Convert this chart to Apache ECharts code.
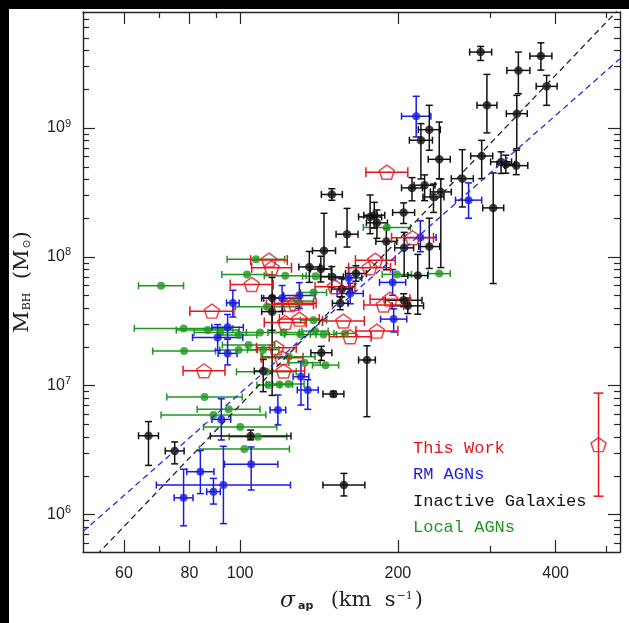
<!DOCTYPE html>
<html>
<head>
<meta charset="utf-8">
<script src="https://cdn.jsdelivr.net/npm/echarts@6/dist/echarts.min.js"></script>
<style>
html, body { margin: 0; padding: 0; background: #000; width: 629px; height: 623px; overflow: hidden; }
#chart { position: absolute; left: 9px; top: 9px; width: 620px; height: 614px; background: #fff; }
</style>
</head>
<body>
<div id="chart"></div>
<script>
// rows: [log sigma, sigma half-bar (dex), log M_BH, bar up (dex), bar down (dex)]
const inactiveGalaxies = [
    [2.459, 0.021, 9.589, 0.044, 0.065],
    [2.471, 0.019, 9.176, 0.240, 0.214],
    [2.531, 0.022, 9.447, 0.142, 0.181],
    [2.574, 0.021, 9.558, 0.103, 0.109],
    [2.585, 0.020, 9.323, 0.085, 0.147],
    [2.528, 0.020, 9.111, 0.142, 0.271],
    [2.361, 0.021, 8.987, 0.189, 0.160],
    [2.345, 0.022, 8.905, 0.129, 0.300],
    [2.380, 0.021, 8.757, 0.289, 0.150],
    [2.461, 0.021, 8.783, 0.121, 0.176],
    [2.498, 0.020, 8.737, 0.078, 0.090],
    [2.507, 0.017, 8.719, 0.070, 0.070],
    [2.527, 0.022, 8.708, 0.119, 0.070],
    [2.483, 0.020, 8.380, 0.271, 0.587],
    [2.424, 0.021, 8.607, 0.225, 0.220],
    [2.328, 0.020, 8.535, 0.080, 0.100],
    [2.352, 0.020, 8.556, 0.080, 0.120],
    [2.383, 0.020, 8.504, 0.100, 0.587],
    [2.369, 0.020, 8.465, 0.100, 0.120],
    [2.312, 0.021, 8.344, 0.075, 0.085],
    [2.204, 0.021, 8.176, 0.200, 0.100],
    [2.160, 0.022, 8.048, 0.290, 0.140],
    [2.248, 0.022, 8.310, 0.170, 0.130],
    [2.256, 0.020, 8.323, 0.100, 0.100],
    [2.261, 0.020, 8.264, 0.100, 0.120],
    [2.175, 0.020, 8.484, 0.045, 0.045],
    [2.279, 0.020, 8.120, 0.100, 0.220],
    [2.313, 0.018, 8.070, 0.120, 0.220],
    [2.361, 0.020, 8.080, 0.220, 0.170],
    [2.339, 0.019, 7.855, 0.164, 0.300],
    [2.132, 0.020, 7.922, 0.120, 0.120],
    [2.154, 0.020, 7.905, 0.100, 0.100],
    [2.175, 0.022, 7.845, 0.080, 0.080],
    [2.221, 0.020, 7.871, 0.060, 0.060],
    [2.194, 0.020, 7.750, 0.080, 0.060],
    [2.191, 0.015, 7.640, 0.050, 0.050],
    [2.312, 0.035, 7.664, 0.050, 0.050],
    [2.320, 0.030, 7.620, 0.060, 0.060],
    [2.061, 0.020, 7.680, 0.160, 0.250],
    [2.061, 0.020, 7.575, 0.120, 0.650],
    [2.155, 0.020, 7.256, 0.050, 0.060],
    [2.242, 0.016, 7.200, 0.110, 0.440],
    [2.178, 0.020, 6.936, 0.020, 0.020],
    [2.044, 0.017, 7.114, 0.090, 0.160],
    [2.020, 0.077, 6.610, 0.046, 0.030],
    [1.825, 0.019, 6.612, 0.110, 0.230],
    [1.875, 0.018, 6.494, 0.070, 0.100],
    [2.198, 0.040, 6.230, 0.090, 0.085]
];

const rmAgns = [
    [2.336, 0.028, 9.091, 0.155, 0.160],
    [2.436, 0.025, 8.440, 0.134, 0.140],
    [2.344, 0.030, 8.150, 0.130, 0.110],
    [2.291, 0.025, 7.802, 0.100, 0.100],
    [2.207, 0.025, 7.837, 0.080, 0.080],
    [2.210, 0.025, 7.716, 0.080, 0.080],
    [2.113, 0.030, 7.700, 0.100, 0.100],
    [2.080, 0.035, 7.678, 0.100, 0.100],
    [2.293, 0.025, 7.517, 0.080, 0.100],
    [1.986, 0.012, 7.643, 0.098, 0.110],
    [1.957, 0.048, 7.375, 0.100, 0.100],
    [1.976, 0.030, 7.453, 0.100, 0.080],
    [1.976, 0.018, 7.251, 0.110, 0.090],
    [2.116, 0.015, 7.070, 0.120, 0.220],
    [2.129, 0.020, 6.967, 0.080, 0.150],
    [2.072, 0.015, 6.812, 0.116, 0.116],
    [1.964, 0.018, 6.739, 0.160, 0.160],
    [2.021, 0.051, 6.391, 0.134, 0.200],
    [1.924, 0.026, 6.333, 0.165, 0.170],
    [1.949, 0.013, 6.178, 0.103, 0.096],
    [1.968, 0.128, 6.230, 0.300, 0.300],
    [1.892, 0.018, 6.130, 0.222, 0.217]
];

// rows: [log sigma, sigma half-bar (dex), log M_BH]
const localAgns = [
    [1.849, 0.043, 7.776], [2.280, 0.045, 8.228], [2.030, 0.055, 7.982],
    [2.013, 0.048, 7.864], [2.086, 0.040, 7.853], [2.380, 0.021, 7.870],
    [2.299, 0.028, 7.864], [2.144, 0.025, 7.849], [1.892, 0.094, 7.445],
    [1.938, 0.060, 7.432], [1.962, 0.050, 7.414], [1.997, 0.035, 7.393],
    [2.038, 0.040, 7.414], [2.115, 0.030, 7.398], [2.143, 0.025, 7.424],
    [2.159, 0.025, 7.398], [2.200, 0.021, 7.406], [1.893, 0.060, 7.269],
    [1.997, 0.036, 7.277], [2.016, 0.050, 7.316], [2.044, 0.030, 7.280],
    [2.140, 0.025, 7.509], [2.140, 0.025, 7.724], [2.051, 0.060, 7.613],
    [2.163, 0.025, 7.160], [2.123, 0.030, 7.179], [2.093, 0.050, 7.225],
    [2.050, 0.057, 7.108], [2.054, 0.022, 7.006], [2.075, 0.025, 7.009],
    [2.092, 0.030, 7.013], [1.932, 0.072, 6.913], [1.949, 0.100, 6.773],
    [1.978, 0.060, 6.817], [2.000, 0.070, 6.679], [2.034, 0.055, 6.605],
    [2.008, 0.086, 6.509], [2.110, 0.030, 7.657], [2.083, 0.030, 7.414]
];

const thisWork = [
    [2.280, 0.040, 8.657], [2.329, 0.040, 8.148], [2.055, 0.035, 7.975],
    [2.060, 0.038, 7.915], [2.258, 0.038, 7.974], [2.247, 0.040, 7.915],
    [2.022, 0.041, 7.786], [2.181, 0.038, 7.768], [1.946, 0.042, 7.579],
    [2.095, 0.045, 7.631], [2.113, 0.038, 7.517], [2.086, 0.040, 7.491],
    [2.197, 0.040, 7.502], [2.274, 0.038, 7.626], [2.286, 0.038, 7.672],
    [2.261, 0.040, 7.424], [2.210, 0.040, 7.380], [2.069, 0.038, 7.295],
    [2.080, 0.040, 7.217], [2.083, 0.040, 7.114], [1.931, 0.040, 7.116],
    [2.105, 0.040, 7.640]
];

// typical uncertainty of this work, drawn at the right edge
const typicalError = [[2.684, 0, 6.543, 0.40, 0.40]];

// log M = zp + slope * log(sigma / 200)
const fitInactive = { zp: 8.13, slope: 4.25 };
const fitAgn = { zp: 8.02, slope: 3.58 };

const sigmaMajor = [60, 80, 100, 200, 400];
const sigmaMinor = [70, 90, 300, 500];
const massMajor = [6, 7, 8, 9];
const massMinorSteps = [2, 3, 4, 5, 6, 7, 8, 9];

const xMin = 1.70, xMax = 2.725, yMin = 5.71, yMax = 9.90;

const RED = '#e3161e', BLUE = '#1a1ae6', GREEN = '#1f961f', BLACK = '#111111';
const frameColor = '#262626';

const massMinor = [];
[5, 6, 7, 8, 9].forEach(function (d) {
    massMinorSteps.forEach(function (k) { massMinor.push(d + Math.log10(k)); });
});

function xAxisDef(pos, ticks, len, line, label) {
    return {
        type: 'value', gridIndex: 0, position: pos, min: xMin, max: xMax,
        axisLine: { show: line, onZero: false, lineStyle: { color: frameColor, width: 1.4 } },
        axisTick: { show: true, inside: true, length: len, customValues: ticks,
            lineStyle: { color: frameColor, width: 1.2 } },
        axisLabel: label ? {
            show: true, customValues: ticks, margin: 14, color: '#222',
            fontFamily: 'Liberation Sans', fontSize: 16,
            formatter: function (v) { return String(Math.round(Math.pow(10, v))); }
        } : { show: false },
        splitLine: { show: false }
    };
}

function yAxisDef(pos, ticks, len, line, label) {
    return {
        type: 'value', gridIndex: 0, position: pos, min: yMin, max: yMax,
        axisLine: { show: line, onZero: false, lineStyle: { color: frameColor, width: 1.4 } },
        axisTick: { show: true, inside: true, length: len, customValues: ticks,
            lineStyle: { color: frameColor, width: 1.2 } },
        axisLabel: label ? {
            show: true, customValues: ticks, margin: 12,
            formatter: function (v) { return '{b|10}{e|' + Math.round(v) + '}'; },
            rich: {
                b: { fontFamily: 'Liberation Sans', fontSize: 16, color: '#222' },
                e: { fontFamily: 'Liberation Sans', fontSize: 11, color: '#222', padding: [0, 0, 9, 0] }
            }
        } : { show: false },
        splitLine: { show: false }
    };
}

function errorSeries(rows, color, cap, width) {
    const padded = rows.map(function (r) { return [r[0], r[1], r[2], r[3] || 0, r[4] || 0]; });
    return {
        type: 'custom', xAxisIndex: 0, yAxisIndex: 0, silent: true, clip: true,
        dimensions: ['ls', 'dls', 'lm', 'up', 'dn'],
        encode: { x: 0, y: 2 },
        data: padded,
        renderItem: function (params, api) {
            const x = api.value(0), dx = api.value(1), y = api.value(2);
            const up = api.value(3), dn = api.value(4);
            const st = { stroke: color, lineWidth: width, fill: null };
            const kids = [];
            function seg(x1, y1, x2, y2) {
                kids.push({ type: 'line', shape: { x1: x1, y1: y1, x2: x2, y2: y2 }, style: st });
            }
            if (dx > 0) {
                const a = api.coord([x - dx, y]), b = api.coord([x + dx, y]);
                seg(a[0], a[1], b[0], b[1]);
                seg(a[0], a[1] - cap, a[0], a[1] + cap);
                seg(b[0], b[1] - cap, b[0], b[1] + cap);
            }
            if (up > 0 || dn > 0) {
                const t = api.coord([x, y + up]), d = api.coord([x, y - dn]);
                seg(t[0], t[1], d[0], d[1]);
                seg(t[0] - cap, t[1], t[0] + cap, t[1]);
                seg(d[0] - cap, d[1], d[0] + cap, d[1]);
            }
            return { type: 'group', children: kids };
        }
    };
}

function points(rows) { return rows.map(function (r) { return [r[0], r[2]]; }); }

function fitLine(fit) {
    return [xMin, xMax].map(function (x) { return [x, fit.zp + fit.slope * (x - Math.log10(200))]; });
}

const pentagon = 'path://M0,-1L0.951,-0.309L0.588,0.809L-0.588,0.809L-0.951,-0.309Z';

const chart = echarts.init(document.getElementById('chart'), null, { renderer: 'canvas' });
chart.setOption({
    animation: false,
    backgroundColor: '#fff',
    grid: { left: 74, right: 9, top: 3, bottom: 71, containLabel: false, outerBoundsMode: 'none' },
    xAxis: [
        Object.assign(xAxisDef('bottom', sigmaMajor.map(Math.log10), 12, true, true), {
            name: '{g|σ}{s|ap}{m|  (km  s}{p|−1}{m|)}',
            nameLocation: 'middle', nameGap: 38,
            nameTextStyle: { rich: {
                g: { fontFamily: 'DejaVu Serif', fontStyle: 'italic', fontSize: 22, color: '#222' },
                s: { fontFamily: 'DejaVu Sans', fontWeight: 'bold', fontSize: 11, color: '#222', padding: [10, 4, 0, 3] },
                m: { fontFamily: 'DejaVu Serif', fontSize: 21, color: '#222' },
                p: { fontFamily: 'DejaVu Serif', fontSize: 11, color: '#222', padding: [0, 2, 10, 1] }
            } }
        }),
        xAxisDef('bottom', sigmaMinor.map(Math.log10), 6, false, false),
        xAxisDef('top', sigmaMajor.map(Math.log10), 12, true, false),
        xAxisDef('top', sigmaMinor.map(Math.log10), 6, false, false)
    ],
    yAxis: [
        Object.assign(yAxisDef('left', massMajor, 12, true, true), {
            name: '{m|M}{s|BH}{m|  (M}{s|⊙}{m|)}',
            nameLocation: 'middle', nameGap: 50, nameRotate: 90,
            nameTextStyle: { rich: {
                m: { fontFamily: 'DejaVu Serif', fontSize: 21, color: '#222' },
                s: { fontFamily: 'DejaVu Serif', fontSize: 11, color: '#222', padding: [10, 0, 0, 1] }
            } }
        }),
        yAxisDef('left', massMinor, 6, false, false),
        yAxisDef('right', massMajor, 12, true, false),
        yAxisDef('right', massMinor, 6, false, false)
    ],
    legend: {
        orient: 'vertical', left: 394, top: 424,
        icon: 'none', itemWidth: 0, itemHeight: 14, itemGap: 6.5,
        selectedMode: false,
        textStyle: { fontFamily: 'Liberation Mono', fontSize: 17, lineHeight: 20 },
        data: [
            { name: 'This Work', textStyle: { color: RED } },
            { name: 'RM AGNs', textStyle: { color: BLUE } },
            { name: 'Inactive Galaxies', textStyle: { color: BLACK } },
            { name: 'Local AGNs', textStyle: { color: GREEN } }
        ]
    },
    series: [
        errorSeries(localAgns, GREEN, 3.5, 1.5),
        { type: 'scatter', name: 'Local AGNs', data: points(localAgns), symbol: 'circle', symbolSize: 8,
          itemStyle: { color: GREEN }, silent: true },
        errorSeries(rmAgns, BLUE, 3.5, 1.5),
        { type: 'scatter', name: 'RM AGNs', data: points(rmAgns), symbol: 'circle', symbolSize: 8,
          itemStyle: { color: BLUE }, silent: true },
        errorSeries(inactiveGalaxies, BLACK, 3.5, 1.5),
        { type: 'scatter', name: 'Inactive Galaxies', data: points(inactiveGalaxies), symbol: 'circle', symbolSize: 8.5,
          itemStyle: { color: BLACK }, silent: true },
        errorSeries(thisWork, RED, 5, 1.5),
        { type: 'scatter', name: 'This Work', data: points(thisWork), symbol: pentagon, symbolSize: [15, 14],
          itemStyle: { color: 'rgba(255,255,255,0)', borderColor: RED, borderWidth: 1.5 }, silent: true },
        errorSeries(typicalError, RED, 5, 1.5),
        { type: 'scatter', data: points(typicalError), symbol: pentagon, symbolSize: [15, 14],
          itemStyle: { color: 'rgba(255,255,255,0)', borderColor: RED, borderWidth: 1.5 }, silent: true },
        { type: 'line', data: fitLine(fitInactive), showSymbol: false, silent: true, clip: true,
          lineStyle: { color: '#222', width: 1.3, type: [6, 4] } },
        { type: 'line', data: fitLine(fitAgn), showSymbol: false, silent: true, clip: true,
          lineStyle: { color: '#2a2ae0', width: 1.3, type: [6, 4] } }
    ]
});
</script>
</body>
</html>
